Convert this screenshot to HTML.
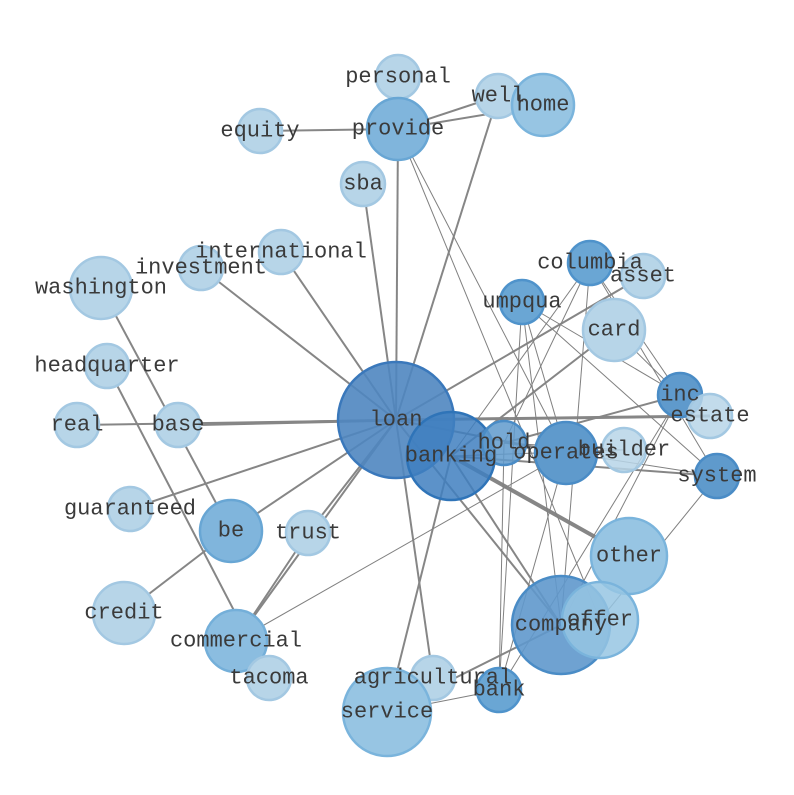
<!DOCTYPE html><html><head><style>body{margin:0;background:#fff}svg text{font-family:"Liberation Mono",monospace;font-size:22px;fill:#3a3a3a;text-anchor:middle;dominant-baseline:central}</style></head><body>
<svg width="794" height="790" xmlns="http://www.w3.org/2000/svg">
<g stroke="#808080" stroke-width="2" opacity="0.95">
<line x1="396" y1="420" x2="398" y2="129"/><line x1="396" y1="420" x2="498" y2="96"/><line x1="396" y1="420" x2="363" y2="184"/>
<line x1="396" y1="420" x2="281" y2="252"/><line x1="396" y1="420" x2="201" y2="268"/><line x1="396" y1="420" x2="178" y2="425" stroke-width="3"/>
<line x1="396" y1="420" x2="77" y2="425"/><line x1="396" y1="420" x2="130" y2="509"/><line x1="396" y1="420" x2="308" y2="533"/>
<line x1="396" y1="420" x2="236" y2="641"/><line x1="396" y1="420" x2="433" y2="678"/><line x1="396" y1="420" x2="561" y2="625"/>
<line x1="396" y1="420" x2="643" y2="276"/><line x1="396" y1="420" x2="710" y2="416" stroke-width="3"/><line x1="396" y1="420" x2="231" y2="531"/>
<line x1="451" y1="456" x2="629" y2="556" stroke-width="4"/><line x1="451" y1="456" x2="561" y2="625"/><line x1="451" y1="456" x2="387" y2="712"/>
<line x1="451" y1="456" x2="614" y2="330"/><line x1="451" y1="456" x2="717" y2="476"/><line x1="504" y1="443" x2="680" y2="395"/>
<line x1="398" y1="129" x2="260" y2="131"/><line x1="398" y1="129" x2="543" y2="105"/><line x1="398" y1="129" x2="498" y2="96"/>
<line x1="101" y1="288" x2="231" y2="531"/><line x1="107" y1="366" x2="269" y2="678"/><line x1="231" y1="531" x2="124" y2="613"/>
<line x1="236" y1="641" x2="308" y2="533"/><line x1="561" y1="625" x2="387" y2="712"/><line x1="396" y1="420" x2="566" y2="453"/>
</g>
<g stroke="#808080" stroke-width="1">
<line x1="398" y1="129" x2="566" y2="453"/><line x1="398" y1="129" x2="600" y2="620"/><line x1="398" y1="77" x2="398" y2="129"/>
<line x1="522" y1="302" x2="561" y2="625"/><line x1="522" y1="302" x2="566" y2="453"/><line x1="522" y1="302" x2="499" y2="690"/>
<line x1="522" y1="302" x2="717" y2="476"/><line x1="522" y1="302" x2="680" y2="395"/><line x1="590" y1="263" x2="451" y2="456"/>
<line x1="590" y1="263" x2="504" y2="443"/><line x1="590" y1="263" x2="561" y2="625"/><line x1="590" y1="263" x2="680" y2="395"/>
<line x1="590" y1="263" x2="717" y2="476"/><line x1="614" y1="330" x2="680" y2="395"/><line x1="680" y1="395" x2="499" y2="690"/>
<line x1="680" y1="395" x2="561" y2="625"/><line x1="717" y1="476" x2="600" y2="620"/><line x1="717" y1="476" x2="504" y2="443"/>
<line x1="504" y1="443" x2="499" y2="690"/><line x1="566" y1="453" x2="499" y2="690"/><line x1="236" y1="641" x2="566" y2="453"/>
<line x1="624" y1="450" x2="451" y2="456"/><line x1="504" y1="443" x2="624" y2="450"/><line x1="387" y1="712" x2="499" y2="690"/>
</g>
<g stroke-width="2.5">
<circle cx="398" cy="77" r="22" fill="#b7d5e8" stroke="#a3c8e2"/>
<circle cx="498" cy="96" r="22" fill="#b7d5e8" stroke="#a3c8e2"/>
<circle cx="543" cy="105" r="31" fill="#97c5e3" stroke="#7ab4dc"/>
<circle cx="398" cy="129" r="31" fill="#80b5dc" stroke="#68a6d4"/>
<circle cx="260" cy="131" r="22" fill="#b7d5e8" stroke="#a3c8e2"/>
<circle cx="363" cy="184" r="22" fill="#b7d5e8" stroke="#a3c8e2"/>
<circle cx="281" cy="252" r="22" fill="#b7d5e8" stroke="#a3c8e2"/>
<circle cx="201" cy="268" r="22" fill="#b7d5e8" stroke="#a3c8e2"/>
<circle cx="101" cy="288" r="31" fill="#b7d5e8" stroke="#a3c8e2"/>
<circle cx="590" cy="263" r="22" fill="#6aa6d4" stroke="#4f93cb"/>
<circle cx="643" cy="276" r="22" fill="#b7d5e8" stroke="#a3c8e2"/>
<circle cx="522" cy="302" r="22" fill="#6aa6d4" stroke="#4f93cb"/>
<circle cx="614" cy="330" r="31" fill="#b7d5e8" stroke="#a3c8e2"/>
<circle cx="107" cy="366" r="22" fill="#b7d5e8" stroke="#a3c8e2"/>
<circle cx="77" cy="425" r="22" fill="#b7d5e8" stroke="#a3c8e2"/>
<circle cx="178" cy="425" r="22" fill="#b7d5e8" stroke="#a3c8e2"/>
<circle cx="396" cy="420" r="58" fill="#4f86c0" fill-opacity="0.9" stroke="#3a78bb"/>
<circle cx="680" cy="395" r="22" fill="#5f9acc" stroke="#4a8cc6"/>
<circle cx="710" cy="416" r="22" fill="#b7d5e8" fill-opacity="0.85" stroke="#a3c8e2"/>
<circle cx="451" cy="456" r="44" fill="#3f7fc0" fill-opacity="0.85" stroke="#2f74b8"/>
<circle cx="504" cy="443" r="22" fill="#5f9acc" fill-opacity="0.85" stroke="#4a8cc6"/>
<circle cx="566" cy="453" r="31" fill="#5f9acc" stroke="#4a8cc6"/>
<circle cx="624" cy="450" r="22" fill="#b7d5e8" fill-opacity="0.85" stroke="#a3c8e2"/>
<circle cx="717" cy="476" r="22" fill="#5f9acc" stroke="#4a8cc6"/>
<circle cx="130" cy="509" r="22" fill="#b7d5e8" stroke="#a3c8e2"/>
<circle cx="231" cy="531" r="31" fill="#80b5dc" stroke="#68a6d4"/>
<circle cx="308" cy="533" r="22" fill="#b7d5e8" stroke="#a3c8e2"/>
<circle cx="629" cy="556" r="38" fill="#97c5e3" stroke="#7ab4dc"/>
<circle cx="124" cy="613" r="31" fill="#b7d5e8" stroke="#a3c8e2"/>
<circle cx="236" cy="641" r="31" fill="#8bbde0" stroke="#74afd9"/>
<circle cx="269" cy="678" r="22" fill="#b7d5e8" stroke="#a3c8e2"/>
<circle cx="561" cy="625" r="49" fill="#5f98cc" fill-opacity="0.9" stroke="#4a8cc6"/>
<circle cx="600" cy="620" r="38" fill="#97c5e3" fill-opacity="0.85" stroke="#7ab4dc"/>
<circle cx="433" cy="678" r="22" fill="#b7d5e8" stroke="#a3c8e2"/>
<circle cx="499" cy="690" r="22" fill="#6aa6d4" stroke="#4f93cb"/>
<circle cx="387" cy="712" r="44" fill="#97c5e3" stroke="#7ab4dc"/>
</g>
<text x="398" y="77">personal</text><text x="498" y="96">well</text><text x="543" y="105">home</text><text x="398" y="129">provide</text>
<text x="260" y="131">equity</text><text x="363" y="184">sba</text><text x="281" y="252">international</text><text x="201" y="268">investment</text>
<text x="101" y="288">washington</text><text x="590" y="263">columbia</text><text x="643" y="276">asset</text><text x="522" y="302">umpqua</text>
<text x="614" y="330">card</text><text x="107" y="366">headquarter</text><text x="77" y="425">real</text><text x="178" y="425">base</text>
<text x="396" y="420">loan</text><text x="680" y="395">inc</text><text x="710" y="416">estate</text><text x="451" y="456">banking</text>
<text x="504" y="443">hold</text><text x="566" y="453">operates</text><text x="624" y="450">builder</text><text x="717" y="476">system</text>
<text x="130" y="509">guaranteed</text><text x="231" y="531">be</text><text x="308" y="533">trust</text><text x="629" y="556">other</text>
<text x="124" y="613">credit</text><text x="236" y="641">commercial</text><text x="269" y="678">tacoma</text><text x="561" y="625">company</text>
<text x="600" y="620">offer</text><text x="433" y="678">agricultural</text><text x="499" y="690">bank</text><text x="387" y="712">service</text>
</svg></body></html>
